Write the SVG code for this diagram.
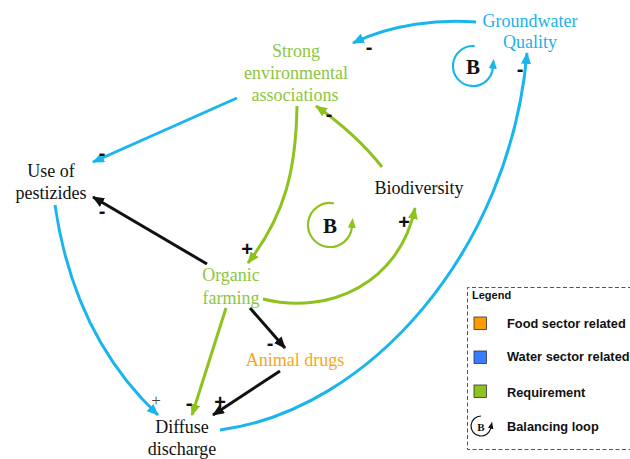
<svg xmlns="http://www.w3.org/2000/svg" width="630" height="459" viewBox="0 0 630 459">
<defs>
<style>
.lbl{font-family:"Liberation Serif","Times New Roman",serif;font-size:18px;text-anchor:middle}
.g{fill:#8dc63f}.c{fill:#1ab2e8}.k{fill:#111}.o{fill:#f6a623}
.sg{font-family:"Liberation Sans",Arial,sans-serif;font-weight:bold;font-size:20px;text-anchor:middle;fill:#111}
.thin{font-family:"Liberation Serif",serif;font-size:17px;text-anchor:middle;fill:#444}
.ln{fill:none;stroke-width:3}
.cy{stroke:#19b5ec}.gr{stroke:#8dc21f}.bk{stroke:#111}
.loopB{font-family:"Liberation Serif",serif;font-weight:bold;font-size:21px;text-anchor:middle;fill:#111}
.leg{font-family:"Liberation Sans",Arial,sans-serif;font-weight:bold;font-size:12.8px;fill:#111}
</style>
<marker id="aC" viewBox="0 0 12 10" refX="11" refY="5" markerWidth="12" markerHeight="10" markerUnits="userSpaceOnUse" orient="auto"><path d="M0,0 L12,5 L0,10 z" fill="#19b5ec"/></marker>
<marker id="aG" viewBox="0 0 12 10" refX="11" refY="5" markerWidth="12" markerHeight="10" markerUnits="userSpaceOnUse" orient="auto"><path d="M0,0 L12,5 L0,10 z" fill="#8dc21f"/></marker>
<marker id="aK" viewBox="0 0 12 10" refX="11" refY="5" markerWidth="12" markerHeight="10" markerUnits="userSpaceOnUse" orient="auto"><path d="M0,0 L12,5 L0,10 z" fill="#111"/></marker>
<marker id="lC" viewBox="0 0 10 8" refX="1" refY="4" markerWidth="10" markerHeight="8" markerUnits="userSpaceOnUse" orient="auto"><path d="M0,0 L10,4 L0,8 z" fill="#19b5ec"/></marker>
<marker id="lG" viewBox="0 0 10 8" refX="1" refY="4" markerWidth="10" markerHeight="8" markerUnits="userSpaceOnUse" orient="auto"><path d="M0,0 L10,4 L0,8 z" fill="#8dc21f"/></marker>
<marker id="lK" viewBox="0 0 10 8" refX="1" refY="4" markerWidth="7" markerHeight="6" markerUnits="userSpaceOnUse" orient="auto"><path d="M0,0 L10,4 L0,8 z" fill="#111"/></marker>
</defs>
<rect width="630" height="459" fill="#fff"/>

<g id="connectors">
<path class="ln cy" d="M476,22 C440,19 392,24 353,43" marker-end="url(#aC)"/>
<path class="ln cy" d="M237,98 Q170,128 93,162" marker-end="url(#aC)"/>
<path class="ln gr" d="M382,167 Q356,134 316,106" marker-end="url(#aG)"/>
<path class="ln gr" d="M297,106 C296,170 285,215 248,263" marker-end="url(#aG)"/>
<path class="ln bk" d="M207,264 L93,197" marker-end="url(#aK)"/>
<path class="ln gr" d="M263,299 C330,316 400,282 415,208" marker-end="url(#aG)"/>
<path class="ln cy" d="M55,205 C68,295 105,365 158,415" marker-end="url(#aC)"/>
<path class="ln gr" d="M226,308 L192,415" marker-end="url(#aG)"/>
<path class="ln bk" d="M250,308 L285,348" marker-end="url(#aK)"/>
<path class="ln bk" d="M280,371 L213,415" marker-end="url(#aK)"/>
<path class="ln cy" d="M220,430 C370,410 510,250 527,53" marker-end="url(#aC)"/>
</g>

<g id="signs">
<text class="sg" x="369" y="54">-</text>
<text class="sg" x="520" y="76">-</text>
<text class="sg" x="102" y="160">-</text>
<text class="sg" x="329" y="121">-</text>
<text class="sg" x="102" y="218">-</text>
<text class="sg" x="247" y="256">+</text>
<text class="sg" x="404" y="229">+</text>
<text class="thin" x="156" y="406">+</text>
<text class="sg" x="189" y="410">-</text>
<text class="sg" x="220" y="409">+</text>
<text class="sg" x="270" y="350">-</text>
</g>

<g id="loop-blue">
<path fill="none" stroke="#19b5ec" stroke-width="2.2" d="M474.7,46.1 A20,20 0 1 0 492.9,67.7" marker-end="url(#lC)"/>
<text class="loopB" x="473" y="74">B</text>
</g>
<g id="loop-green">
<path fill="none" stroke="#8dc21f" stroke-width="2.2" d="M333.8,203.3 A22,22 0 1 0 351.9,226.9" marker-end="url(#lG)"/>
<text class="loopB" x="330" y="233">B</text>
</g>

<g id="node-groundwater"><text class="lbl c" x="530" y="27">Groundwater</text><text class="lbl c" x="530" y="48">Quality</text></g>
<g id="node-strong"><text class="lbl g" x="296" y="57">Strong</text><text class="lbl g" x="296" y="79">environmental</text><text class="lbl g" x="295" y="101">associations</text></g>
<g id="node-pesticides"><text class="lbl k" x="51" y="177">Use of</text><text class="lbl k" x="51" y="199">pestizides</text></g>
<g id="node-biodiversity"><text class="lbl k" x="419" y="194">Biodiversity</text></g>
<g id="node-organic"><text class="lbl g" x="231" y="281">Organic</text><text class="lbl g" x="231" y="304">farming</text></g>
<g id="node-animal"><text class="lbl o" x="295" y="366">Animal drugs</text></g>
<g id="node-diffuse"><text class="lbl k" x="182" y="433">Diffuse</text><text class="lbl k" x="182" y="455">discharge</text></g>

<g id="legend">
<path d="M632,287.5 H467.5 V449.5 H632" fill="none" stroke="#555" stroke-width="1" stroke-dasharray="4,2.5"/>
<text x="472" y="299" font-family="Liberation Sans,Arial,sans-serif" font-weight="bold" font-size="11" fill="#111">Legend</text>
<rect x="474" y="317" width="12.5" height="12.5" fill="#ff9b00" stroke="#333" stroke-width="0.8"/>
<text class="leg" x="507" y="327.5">Food sector related</text>
<rect x="474" y="351" width="12.5" height="12.5" fill="#3a7cff" stroke="#333" stroke-width="0.8"/>
<text class="leg" x="507" y="360.5">Water sector related</text>
<rect x="474" y="385" width="12.5" height="12.5" fill="#8dc21f" stroke="#333" stroke-width="0.8"/>
<text class="leg" x="507" y="396.5">Requirement</text>
<path fill="none" stroke="#111" stroke-width="1.2" d="M481,416 A10,10 0 1 0 490.8,428" marker-end="url(#lK)"/>
<text x="481" y="430.5" font-family="Liberation Serif,serif" font-weight="bold" font-size="11" text-anchor="middle" fill="#111">B</text>
<text class="leg" x="507" y="430.5">Balancing loop</text>
</g>
</svg>
